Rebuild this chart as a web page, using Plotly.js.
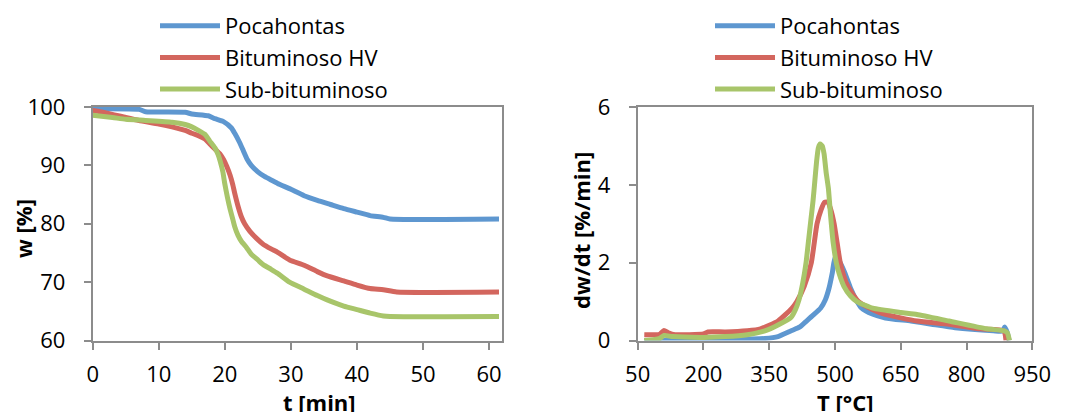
<!DOCTYPE html>
<html>
<head>
<meta charset="utf-8">
<script src="https://cdn.plot.ly/plotly-3.0.1.min.js"></script>
<style>
  html, body { margin: 0; padding: 0; background: #ffffff; }
  #chart { width: 1072px; height: 412px; }
</style>
</head>
<body>
<div id="chart"></div>
<script>
// ---- Data ----
const seriesNames = ["Pocahontas", "Bituminoso HV", "Sub-bituminoso"];

// Left panel: mass w [%] vs time t [min]
const tPoca = [0, 7, 8, 14, 15, 17.5, 18.5, 19.8, 21, 21.5, 22.2, 22.8, 23.4, 24, 25, 26, 27, 28, 30, 32, 34, 36, 38, 40, 42, 44, 45, 61.5];
const wPoca = [99.7, 99.6, 99.2, 99.1, 98.8, 98.5, 98.0, 97.5, 96.4, 95.5, 94.0, 92.5, 91.0, 90.0, 88.9, 88.1, 87.5, 86.9, 85.9, 84.8, 84.0, 83.3, 82.6, 82.0, 81.4, 81.1, 80.8, 80.8];

const tBitu = [0, 2, 5, 7, 10, 12, 14, 15, 16, 17, 17.7, 18.5, 19.3, 19.8, 20.3, 20.8, 21.2, 21.5, 22, 22.5, 23, 23.8, 24.8, 25.8, 27, 28, 29.8, 32, 34, 35.4, 38, 40, 42, 44, 46, 61.5];
const wBitu = [99.4, 99.0, 98.2, 97.7, 97.1, 96.6, 96.0, 95.5, 95.1, 94.5, 93.7, 92.8, 91.9, 91.0, 89.8, 88.3, 86.7, 85.2, 83.0, 81.2, 80.0, 78.7, 77.5, 76.5, 75.7, 75.1, 73.8, 72.9, 71.8, 71.1, 70.2, 69.5, 68.9, 68.7, 68.3, 68.3];

const tSub = [0, 3, 5, 8, 12, 14, 15, 16, 17, 17.7, 18.5, 19.0, 19.3, 19.7, 20, 20.4, 20.8, 21.2, 21.5, 22, 22.5, 23.3, 24, 25, 25.8, 27, 28, 29.8, 32, 34, 35.4, 38, 40, 42, 44, 45, 61.5];
const wSub = [98.6, 98.2, 97.9, 97.7, 97.4, 97.0, 96.6, 96.0, 95.3, 94.2, 93.0, 91.8, 90.7, 88.9, 86.8, 84.5, 82.5, 80.8, 79.5, 78.0, 77.0, 75.9, 74.8, 73.8, 73.0, 72.2, 71.5, 70.0, 68.8, 67.7, 67.0, 65.9, 65.3, 64.7, 64.2, 64.1, 64.1];

// Right panel: dw/dt [%/min] vs temperature T [°C]
const TPoca = [65, 150, 250, 340, 370, 400, 420, 435, 450, 467, 478, 486, 494, 500, 506, 514, 522, 536, 548, 561, 585, 615, 673, 720, 774, 861, 882, 887, 893, 897];
const dPoca = [0.0, 0.0, 0.02, 0.05, 0.1, 0.25, 0.35, 0.5, 0.65, 0.83, 1.05, 1.33, 1.75, 2.12, 2.1, 1.95, 1.75, 1.33, 1.05, 0.83, 0.68, 0.58, 0.5, 0.42, 0.33, 0.25, 0.24, 0.35, 0.2, 0.0];

const TBitu = [65, 100, 110, 120, 135, 200, 210, 250, 300, 330, 370, 402, 413, 430, 446, 459, 468, 476, 484, 492, 498, 505, 512, 525, 540, 554, 585, 615, 687, 760, 832, 885, 890];
const dBitu = [0.15, 0.16, 0.26, 0.2, 0.15, 0.17, 0.22, 0.22, 0.25, 0.3, 0.5, 0.83, 1.0, 1.4, 2.0, 3.0, 3.35, 3.55, 3.55, 3.3, 3.0, 2.5, 2.0, 1.5, 1.2, 1.0, 0.8, 0.67, 0.5, 0.42, 0.3, 0.25, 0.0];

const TSub = [65, 100, 110, 130, 200, 250, 300, 340, 370, 400, 410, 418, 426, 434, 440, 445, 450, 454, 458, 462, 466, 471, 475, 480, 485, 490, 496, 503, 510, 520, 535, 550, 586, 650, 687, 760, 846, 886, 893, 898];
const dSub = [0.0, 0.05, 0.13, 0.1, 0.08, 0.1, 0.15, 0.25, 0.4, 0.6, 0.8, 1.05, 1.45, 2.0, 2.6, 3.1, 3.6, 4.1, 4.6, 4.95, 5.05, 5.0, 4.8, 4.3, 3.9, 3.2, 2.5, 2.0, 1.7, 1.4, 1.15, 1.0, 0.83, 0.72, 0.67, 0.5, 0.3, 0.25, 0.2, 0.0];

// ---- Styling ----
const colors = ["#5E97D0", "#D3665E", "#A8C56A"];
const FONT = "'Open Sans', 'Noto Sans', sans-serif";
const axisGrey = "#8C8C8C";

const lineW = 5;
const traces = [
  {x: tPoca, y: wPoca, name: seriesNames[0], xaxis: "x", yaxis: "y", legend: "legend"},
  {x: tBitu, y: wBitu, name: seriesNames[1], xaxis: "x", yaxis: "y", legend: "legend"},
  {x: tSub,  y: wSub,  name: seriesNames[2], xaxis: "x", yaxis: "y", legend: "legend"},
  {x: TPoca, y: dPoca, name: seriesNames[0], xaxis: "x2", yaxis: "y2", legend: "legend2"},
  {x: TBitu, y: dBitu, name: seriesNames[1], xaxis: "x2", yaxis: "y2", legend: "legend2"},
  {x: TSub,  y: dSub,  name: seriesNames[2], xaxis: "x2", yaxis: "y2", legend: "legend2"}
].map((t, i) => Object.assign(t, {
  type: "scatter", mode: "lines",
  line: {color: colors[i % 3], width: lineW, shape: "spline", smoothing: 0.5},
  hoverinfo: "skip"
}));

function axisBase(extra) {
  return Object.assign({
    showline: true, linecolor: axisGrey, linewidth: 2, mirror: true,
    ticks: "outside", ticklen: 7, tickwidth: 2, tickcolor: axisGrey,
    showgrid: false, zeroline: false, automargin: false, fixedrange: true,
    tickfont: {family: FONT, size: 22, color: "#000000"}
  }, extra);
}

const yTop = 1 - 107 / 412, yBot = 1 - 340.5 / 412;

const legendBase = {
  font: {family: FONT, size: 22, color: "#000000"},
  bgcolor: "rgba(0,0,0,0)", borderwidth: 0,
  xanchor: "left", yanchor: "top", xref: "paper", yref: "paper",
  itemwidth: 60, tracegroupgap: 0, traceorder: "normal"
};

const titleFont = {family: FONT, size: 22, color: "#000000", weight: "bold"};

const layout = {
  width: 1072, height: 412,
  margin: {l: 0, r: 0, t: 0, b: 0},
  paper_bgcolor: "#ffffff", plot_bgcolor: "#ffffff",
  showlegend: true,
  xaxis: axisBase({domain: [92.7 / 1072, 502.3 / 1072], range: [0, 62], tick0: 0, dtick: 10, anchor: "y", ticklabelstandoff: 6}),
  yaxis: axisBase({domain: [yBot, yTop], range: [60, 100], tick0: 60, dtick: 10, anchor: "x", ticklabelstandoff: 14}),
  xaxis2: axisBase({domain: [637.7 / 1072, 1032.3 / 1072], range: [50, 950], tick0: 50, dtick: 150, anchor: "y2", ticklabelstandoff: 6}),
  yaxis2: axisBase({domain: [yBot, yTop], range: [0, 6], tick0: 0, dtick: 2, anchor: "x2", ticklabelstandoff: 14}),
  legend: Object.assign({}, legendBase, {x: 155 / 1072, y: 1 - 5 / 412}),
  legend2: Object.assign({}, legendBase, {x: 710 / 1072, y: 1 - 5 / 412}),
  annotations: [
    {text: "<b>t [min]</b>", xref: "paper", yref: "paper", x: 319 / 1072, y: 1 - 402 / 412, xanchor: "center", yanchor: "middle", showarrow: false, font: titleFont},
    {text: "<b>T [°C]</b>", xref: "paper", yref: "paper", x: 845 / 1072, y: 1 - 402 / 412, xanchor: "center", yanchor: "middle", showarrow: false, font: titleFont},
    {text: "<b>w [%]</b>", xref: "paper", yref: "paper", x: 23 / 1072, y: 1 - 229 / 412, xanchor: "center", yanchor: "middle", textangle: -90, showarrow: false, font: titleFont},
    {text: "<b>dw/dt [%/min]</b>", xref: "paper", yref: "paper", x: 581 / 1072, y: 1 - 231 / 412, xanchor: "center", yanchor: "middle", textangle: -90, showarrow: false, font: titleFont}
  ]
};

Plotly.newPlot("chart", traces, layout, {staticPlot: true, displayModeBar: false});
</script>
</body>
</html>
